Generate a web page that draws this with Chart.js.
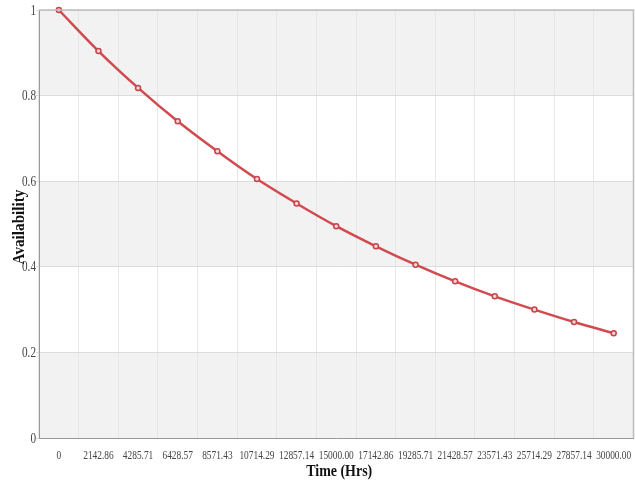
<!DOCTYPE html>
<html>
<head>
<meta charset="utf-8">
<script src="https://cdn.jsdelivr.net/npm/chart.js@4"></script>
<style>
    html, body { margin: 0; padding: 0; background: #fff; overflow: hidden; }
    #wrap { width: 639px; height: 489px; }
</style>
</head>
<body>
<div id="wrap"><canvas id="myChart"></canvas></div>
<script>
const timeLabels = ['0', '2142.86', '4285.71', '6428.57', '8571.43', '10714.29', '12857.14',
    '15000.00', '17142.86', '19285.71', '21428.57', '23571.43', '25714.29', '27857.14', '30000.00'];
const availability = [1.0, 0.904, 0.818, 0.74, 0.67, 0.605, 0.548, 0.495, 0.448, 0.405, 0.366, 0.331, 0.3, 0.271, 0.245];
const yTicks = [0, 0.2, 0.4, 0.6, 0.8, 1];

// grey / white bands between y ticks
const bands = {
    id: 'bands',
    beforeDraw(chart) {
        const { ctx, chartArea, scales } = chart;
        ctx.save();
        for (let i = 0; i < yTicks.length - 1; i += 2) {
            const top = scales.y.getPixelForValue(yTicks[i + 1]);
            const bottom = scales.y.getPixelForValue(yTicks[i]);
            ctx.fillStyle = '#f2f2f2';
            ctx.fillRect(chartArea.left, top, chartArea.right - chartArea.left, bottom - top);
        }
        ctx.restore();
    }
};

// narrow serif text like the original (labels squeezed sideways)
function narrowText(ctx, text, x, y, font, sx, align) {
    ctx.save();
    ctx.font = font;
    ctx.textAlign = align;
    ctx.textBaseline = 'middle';
    ctx.translate(x, y);
    ctx.scale(sx, 1);
    ctx.fillText(text, 0, 0);
    ctx.restore();
}

const labelsPlugin = {
    id: 'labels',
    afterDraw(chart) {
        const { ctx, chartArea, scales } = chart;
        ctx.save();
        // frame on top and right
        ctx.strokeStyle = '#bdbdbd';
        ctx.lineWidth = 1.5;
        ctx.beginPath();
        ctx.moveTo(chartArea.left, chartArea.top);
        ctx.lineTo(chartArea.right, chartArea.top);
        ctx.lineTo(chartArea.right, chartArea.bottom);
        ctx.stroke();

        ctx.fillStyle = '#444';
        timeLabels.forEach((t, i) => {
            narrowText(ctx, t, scales.x.getPixelForValue(i), chartArea.bottom + 18,
                '12px "Liberation Serif"', 0.78, 'center');
        });
        yTicks.forEach(v => {
            narrowText(ctx, String(v), chartArea.left - 3, scales.y.getPixelForValue(v) + 1,
                '14px "Liberation Serif"', 0.8, 'right');
        });
        ctx.fillStyle = '#111';
        narrowText(ctx, 'Time (Hrs)', (chartArea.left + chartArea.right) / 2 + 3, chartArea.bottom + 34,
            'bold 17px "Liberation Serif"', 0.82, 'center');
        ctx.save();
        ctx.translate(20, (chartArea.top + chartArea.bottom) / 2 + 3);
        ctx.rotate(-Math.PI / 2);
        narrowText(ctx, 'Availability', 0, 0, 'bold 16px "Liberation Serif"', 0.95, 'center');
        ctx.restore();
        ctx.restore();
    }
};

const ctx = document.getElementById('myChart');
new Chart(ctx, {
    type: 'line',
    data: {
        labels: timeLabels,
        datasets: [{
            data: availability,
            borderColor: '#d04a4f',
            borderWidth: 2.5,
            pointRadius: 2.5,
            pointBorderWidth: 1.5,
            pointBackgroundColor: '#f4d6d6',
            pointBorderColor: '#c8434a',
            cubicInterpolationMode: 'monotone',
            clip: false
        }]
    },
    options: {
        responsive: true,
        maintainAspectRatio: false,
        animation: false,
        layout: { padding: { top: 10, right: 0, left: 0, bottom: 0 } },
        plugins: { legend: { display: false }, tooltip: { enabled: false } },
        scales: {
            x: {
                offset: true,
                afterFit: axis => { axis.height = 51; },
                grid: { offset: true, color: '#e6e6e6', drawTicks: false },
                border: { color: '#999', width: 1 },
                ticks: { display: false, autoSkip: false }
            },
            y: {
                min: 0, max: 1,
                afterFit: axis => { axis.width = 39; },
                afterBuildTicks: axis => { axis.ticks = yTicks.map(v => ({ value: v })); },
                grid: { color: '#dcdcdc', drawTicks: true, tickLength: 3 },
                border: { color: '#999', width: 1 },
                ticks: { display: false }
            }
        }
    },
    plugins: [bands, labelsPlugin]
});
</script>
</body>
</html>
